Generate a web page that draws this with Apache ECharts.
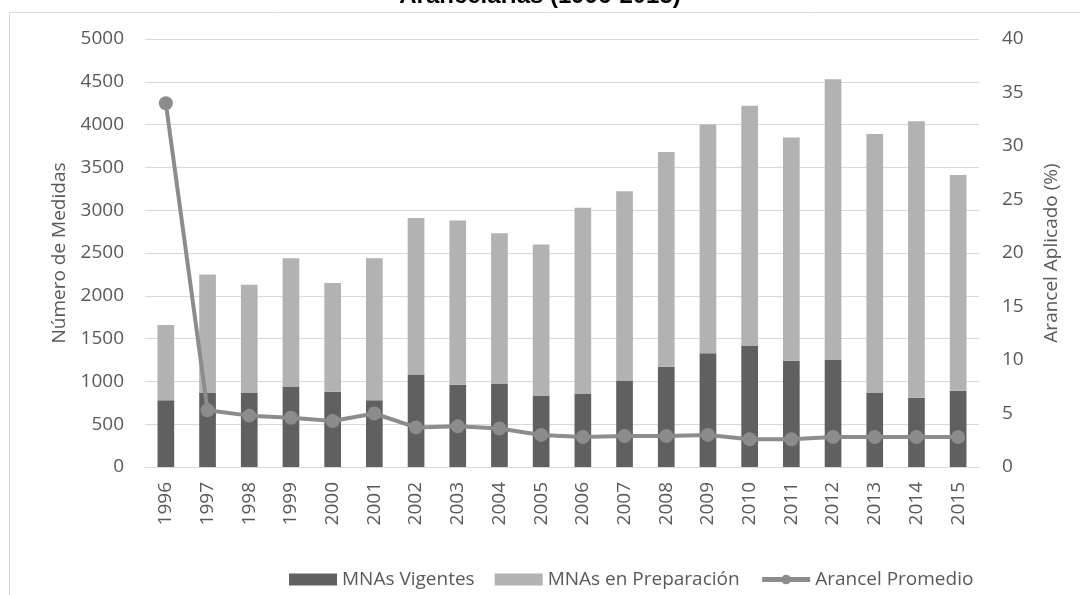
<!DOCTYPE html>
<html>
<head>
<meta charset="utf-8">
<script src="https://cdn.jsdelivr.net/npm/echarts@6/dist/echarts.min.js"></script>
<style>
  html, body { margin: 0; padding: 0; background: #fff; }
  #chart { width: 1080px; height: 595px; }
</style>
</head>
<body>
<div id="chart"></div>
<script>
// Datos
const years = ['1996','1997','1998','1999','2000','2001','2002','2003','2004','2005',
               '2006','2007','2008','2009','2010','2011','2012','2013','2014','2015'];
const vigentes = [780, 870, 870, 940, 880, 780, 1080, 960, 970, 830,
                  860, 1010, 1170, 1330, 1420, 1240, 1250, 870, 810, 890];
const preparacion = [880, 1380, 1260, 1500, 1270, 1660, 1830, 1920, 1760, 1770,
                     2170, 2210, 2510, 2670, 2800, 2610, 3280, 3020, 3230, 2520];
const arancel = [34.0, 5.3, 4.8, 4.6, 4.3, 5.0, 3.7, 3.8, 3.6, 3.0,
                 2.8, 2.9, 2.9, 3.0, 2.6, 2.6, 2.8, 2.8, 2.8, 2.8];

const font = '"Open Sans", sans-serif';
const txt = '#595959';

let chart = echarts.init(document.getElementById('chart'));

let option = {
  animation: false,
  graphic: [
    {
      type: 'rect',
      shape: { x: 9.5, y: 12.5, width: 1090, height: 600 },
      style: { fill: 'none', stroke: '#d9d9d9', lineWidth: 1 },
      z: -10
    },
    {
      type: 'text',
      x: 540, y: -4,
      style: {
        text: 'Arancelarias (1996-2015)',
        font: 'bold 24px "Liberation Sans", Arial, sans-serif',
        fill: '#000',
        align: 'center',
        verticalAlign: 'middle'
      }
    }
  ],
  grid: { left: 145, right: 101, top: 39, bottom: 128 },
  legend: {
    top: 565,
    left: 284,
    itemWidth: 48,
    itemHeight: 12,
    itemGap: 20,
    textStyle: { fontFamily: font, fontSize: 19, color: txt },
    data: [
      { name: 'MNAs Vigentes', icon: 'rect' },
      { name: 'MNAs en Preparación', icon: 'rect' },
      { name: 'Arancel Promedio', lineStyle: { width: 5 } }
    ]
  },
  xAxis: {
    type: 'category',
    data: years,
    axisLine: { lineStyle: { color: '#d9d9d9', width: 1 } },
    axisTick: { show: false },
    axisLabel: { rotate: 90, interval: 0, fontFamily: font, fontSize: 19, color: txt, margin: 15 }
  },
  yAxis: [
    {
      type: 'value',
      min: 0, max: 5000, interval: 500,
      name: 'Número de Medidas',
      nameLocation: 'middle',
      nameGap: 76,
      nameTextStyle: { fontFamily: font, fontSize: 19, color: txt },
      axisLine: { show: false },
      axisTick: { show: false },
      axisLabel: { fontFamily: font, fontSize: 19, color: txt, margin: 21, formatter: v => String(v) },
      splitLine: { lineStyle: { color: '#d9d9d9', width: 1 } }
    },
    {
      type: 'value',
      min: 0, max: 40, interval: 5,
      name: 'Arancel Aplicado (%)',
      nameLocation: 'middle',
      nameGap: 63,
      nameRotate: 90,
      nameTextStyle: { fontFamily: font, fontSize: 19, color: txt },
      axisLine: { show: false },
      axisTick: { show: false },
      axisLabel: { fontFamily: font, fontSize: 19, color: txt, margin: 23 },
      splitLine: { show: false }
    }
  ],
  series: [
    {
      name: 'MNAs Vigentes',
      type: 'bar',
      stack: 'mna',
      barWidth: '40%',
      itemStyle: { color: '#606060' },
      data: vigentes
    },
    {
      name: 'MNAs en Preparación',
      type: 'bar',
      stack: 'mna',
      barWidth: '40%',
      itemStyle: { color: '#b2b2b2' },
      data: preparacion
    },
    {
      name: 'Arancel Promedio',
      type: 'line',
      yAxisIndex: 1,
      symbol: 'circle',
      symbolSize: 14,
      lineStyle: { color: '#8c8c8c', width: 4 },
      itemStyle: { color: '#8c8c8c' },
      data: arancel
    }
  ]
};

chart.setOption(option);
</script>
</body>
</html>
